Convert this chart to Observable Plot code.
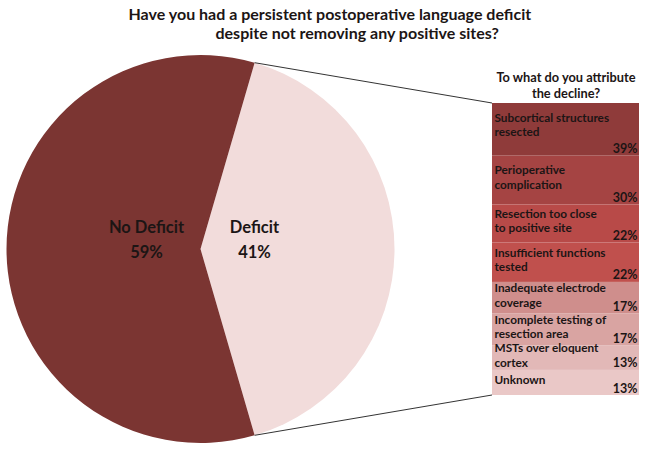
<!DOCTYPE html>
<html>
<head>
<meta charset="utf-8">
<script src="https://cdn.jsdelivr.net/npm/d3@7"></script>
<script src="https://cdn.jsdelivr.net/npm/@observablehq/plot@0.6"></script>
<style>
  html, body { margin: 0; padding: 0; background: #fff; }
  #chart svg { display: block; }
</style>
</head>
<body>
<div id="chart"></div>
<script>
// ---- Data ----
const titleLines = [
  "Have you had a persistent postoperative language deficit",
  "despite not removing any positive sites?"
];
const pieCategories = ["Deficit", "No Deficit"];
const pieValues = [41, 59];
const barTitle = "To what do you attribute\nthe decline?";
const causes = [
  "Subcortical structures\nresected",
  "Perioperative\ncomplication",
  "Resection too close\nto positive site",
  "Insufficient functions\ntested",
  "Inadequate electrode\ncoverage",
  "Incomplete testing of\nresection area",
  "MSTs over eloquent\ncortex",
  "Unknown"
];
const causeValues = [39, 30, 22, 22, 17, 17, 13, 13];

// ---- Styles ----
const pieColors = ["#f2dcdb", "#7b3532"];
const barColors = ["#8f3b3a", "#a54443", "#b84a48", "#c0504d", "#cf8e8c", "#d9a4a2", "#e2b8b7", "#eac8c7"];
const textColor = "#1c1515";

// ---- Layout ----
const W = 645, H = 451;
const pieCx = 200.5, pieCy = 249, pieR = 194;
const barLeft = 492, barRight = 639, barTop = 103, barBottom = 395;
const bw = barRight - barLeft;

const pieData = pieCategories.map((c, i) => ({category: c, value: pieValues[i]}));
const barData = causes.map((c, i) => ({cause: c, value: causeValues[i]}));
const total = d3.sum(causeValues);

function pieMark(index, scales) {
  const g = d3.create("svg:g");
  const sum = d3.sum(pieValues);
  const a0 = Math.PI / 2 - Math.PI * pieValues[0] / sum;
  const arcs = d3.pie().sort(null).value(d => d.value)
    .startAngle(a0).endAngle(a0 + 2 * Math.PI)(pieData);
  const arc = d3.arc().innerRadius(0).outerRadius(pieR);
  const pg = g.append("g").attr("transform", `translate(${pieCx},${pieCy})`);
  pg.selectAll("path").data(arcs).join("path")
    .attr("d", arc)
    .attr("fill", (d, i) => pieColors[i]);
  // labels
  const lab = d3.arc().innerRadius(54).outerRadius(54);
  arcs.forEach(a => {
    const [lx] = lab.centroid(a);
    const t = pg.append("text")
      .attr("text-anchor", "middle")
      .attr("font-size", 16.5)
      .attr("font-weight", "bold")
      .attr("fill", textColor);
    t.append("tspan").attr("x", lx).attr("y", -16).text(a.data.category);
    t.append("tspan").attr("x", lx).attr("y", 9).text(a.data.value + "%");
  });
  // connector lines from the Deficit slice edges to the bar
  const d = arcs[0];
  const bx = scales.x("decline");
  const p = ang => [pieCx + pieR * Math.sin(ang), pieCy - pieR * Math.cos(ang)];
  const [x0, y0] = p(d.startAngle);
  const [x1, y1] = p(d.endAngle);
  g.append("line").attr("x1", x0).attr("y1", y0).attr("x2", bx).attr("y2", scales.y(0))
    .attr("stroke", "#333").attr("stroke-width", 1);
  g.append("line").attr("x1", x1).attr("y1", y1).attr("x2", bx).attr("y2", scales.y(total))
    .attr("stroke", "#333").attr("stroke-width", 1);
  return g.node();
}

const chart = Plot.plot({
  width: W,
  height: H,
  margin: 0,
  style: {fontFamily: "Lato, 'Open Sans', sans-serif", background: "#fff", color: textColor},
  x: {type: "band", domain: ["decline"], range: [barLeft, barRight], padding: 0, axis: null},
  y: {type: "pow", exponent: 1.15, domain: [0, total], range: [barTop, barBottom], axis: null},
  color: {domain: causes, range: barColors},
  marks: [
    pieMark,
    Plot.barY(barData, Plot.stackY({x: () => "decline", y: "value", fill: "cause"})),
    Plot.text(barData, Plot.stackY({
      x: () => "decline", y: "value", text: "cause",
      textAnchor: "start", dx: -bw / 2 + 2, dy: -3,
      fontSize: 11.8, fontWeight: "bold", lineHeight: 1.2, fill: textColor
    })),
    Plot.text(barData, Plot.stackY2({
      x: () => "decline", y: "value", text: d => d.value + "%",
      textAnchor: "end", dx: bw / 2 - 2, dy: -3, lineAnchor: "bottom",
      fontSize: 12.5, fontWeight: "bold", fill: textColor
    })),
    Plot.text([barTitle], {
      x: () => "decline", frameAnchor: "top", lineAnchor: "bottom", dy: 97,
      fontSize: 12.8, fontWeight: "bold", lineHeight: 1.2, fill: textColor
    }),
    Plot.text([titleLines[0]], {
      frameAnchor: "top-left", textAnchor: "start", lineAnchor: "bottom",
      dx: 128, dy: 19, fontSize: 16, fontWeight: "bold", fill: textColor
    }),
    Plot.text([titleLines[1]], {
      frameAnchor: "top-left", textAnchor: "start", lineAnchor: "bottom",
      dx: 215, dy: 38, fontSize: 16, fontWeight: "bold", fill: textColor
    })
  ]
});
document.getElementById("chart").append(chart);
</script>
</body>
</html>
